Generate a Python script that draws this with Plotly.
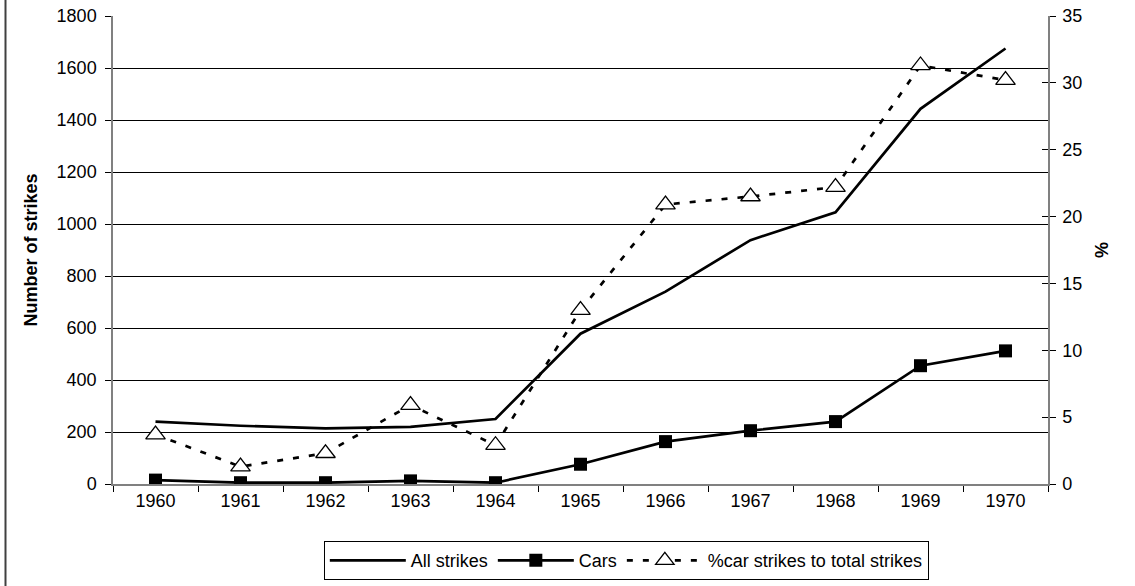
import plotly.graph_objects as go

years = ["1960", "1961", "1962", "1963", "1964", "1965", "1966", "1967", "1968", "1969", "1970"]
all_strikes = [240, 224, 214, 220, 250, 578, 740, 938, 1045, 1443, 1675]
cars = [15, 5, 5, 12, 5, 76, 163, 205, 240, 455, 512]
pct_car = [3.7, 1.3, 2.3, 5.9, 2.9, 13.0, 20.9, 21.5, 22.2, 31.3, 30.2]

FONT = "Liberation Sans, Arial, sans-serif"
FS = 18

fig = go.Figure()
fig.add_trace(go.Scatter(x=years, y=all_strikes, name="All strikes", mode="lines",
                         line=dict(color="black", width=2.7)))
fig.add_trace(go.Scatter(x=years, y=cars, name="Cars", mode="lines+markers",
                         line=dict(color="black", width=2.7),
                         marker=dict(symbol="square", size=13, color="black")))
fig.add_trace(go.Scatter(x=years, y=pct_car, name="%car strikes to total strikes",
                         mode="lines+markers", yaxis="y2",
                         line=dict(color="black", width=2.7, dash="6px,10px"),
                         marker=dict(symbol="triangle-up", size=17, color="white",
                                     line=dict(color="black", width=1.3))))
# invisible trace to give the overlay axis (inside ticks) something to draw
fig.add_trace(go.Scatter(x=years, y=pct_car, yaxis="y3", showlegend=False,
                         mode="lines", line=dict(width=0), hoverinfo="skip"))

fig.update_layout(
    width=1135, height=586,
    margin=dict(l=113, r=87, t=16, b=102, autoexpand=False),
    paper_bgcolor="white", plot_bgcolor="white",
    font=dict(family=FONT, size=FS, color="black"),
    showlegend=True,
    legend=dict(orientation="h", x=0.549, xanchor="center", y=-0.122, yanchor="top",
                bordercolor="black", borderwidth=1, bgcolor="white",
                font=dict(family=FONT, size=FS), itemwidth=76, traceorder="normal"),
    xaxis=dict(type="category", range=[-0.5, 10.5], showgrid=False, automargin=False,
               showline=True, linecolor="#808080", linewidth=1.5,
               ticks="outside", tickson="boundaries", ticklen=6, tickcolor="black",
               tickfont=dict(size=FS)),
    yaxis=dict(range=[0, 1800], dtick=200, showgrid=True, gridcolor="black", gridwidth=1,
               showline=True, linecolor="#808080", linewidth=1.5, automargin=False,
               ticks="outside", ticklen=6, tickcolor="black", zeroline=False,
               ticklabelstandoff=5, ticklabeloverflow="allow",
               title=dict(text="<b>Number of strikes</b>", font=dict(size=FS), standoff=14),
               tickfont=dict(size=FS)),
    yaxis2=dict(range=[0, 35], dtick=5, overlaying="y", side="right", showgrid=False,
                showline=True, linecolor="#808080", linewidth=1.5, automargin=False,
                ticks="outside", ticklen=6, tickcolor="black", zeroline=False,
                ticklabelstandoff=3, ticklabeloverflow="allow",
                title=dict(text="<b>%</b>", font=dict(size=FS), standoff=14),
                tickfont=dict(size=FS)),
    yaxis3=dict(range=[0, 35], dtick=5, overlaying="y", side="right", showgrid=False,
                showline=False, ticks="inside", ticklen=6, tickcolor="black", automargin=False,
                showticklabels=False, zeroline=False),
    shapes=[dict(type="line", xref="paper", yref="paper",
                 x0=(5.5 - 113) / 935, x1=(5.5 - 113) / 935, y0=-0.3, y1=1.1,
                 line=dict(color="#404040", width=2))],
)

fig.write_html("out.html", config={"displayModeBar": False},
               post_script="document.body.style.margin='0';")
